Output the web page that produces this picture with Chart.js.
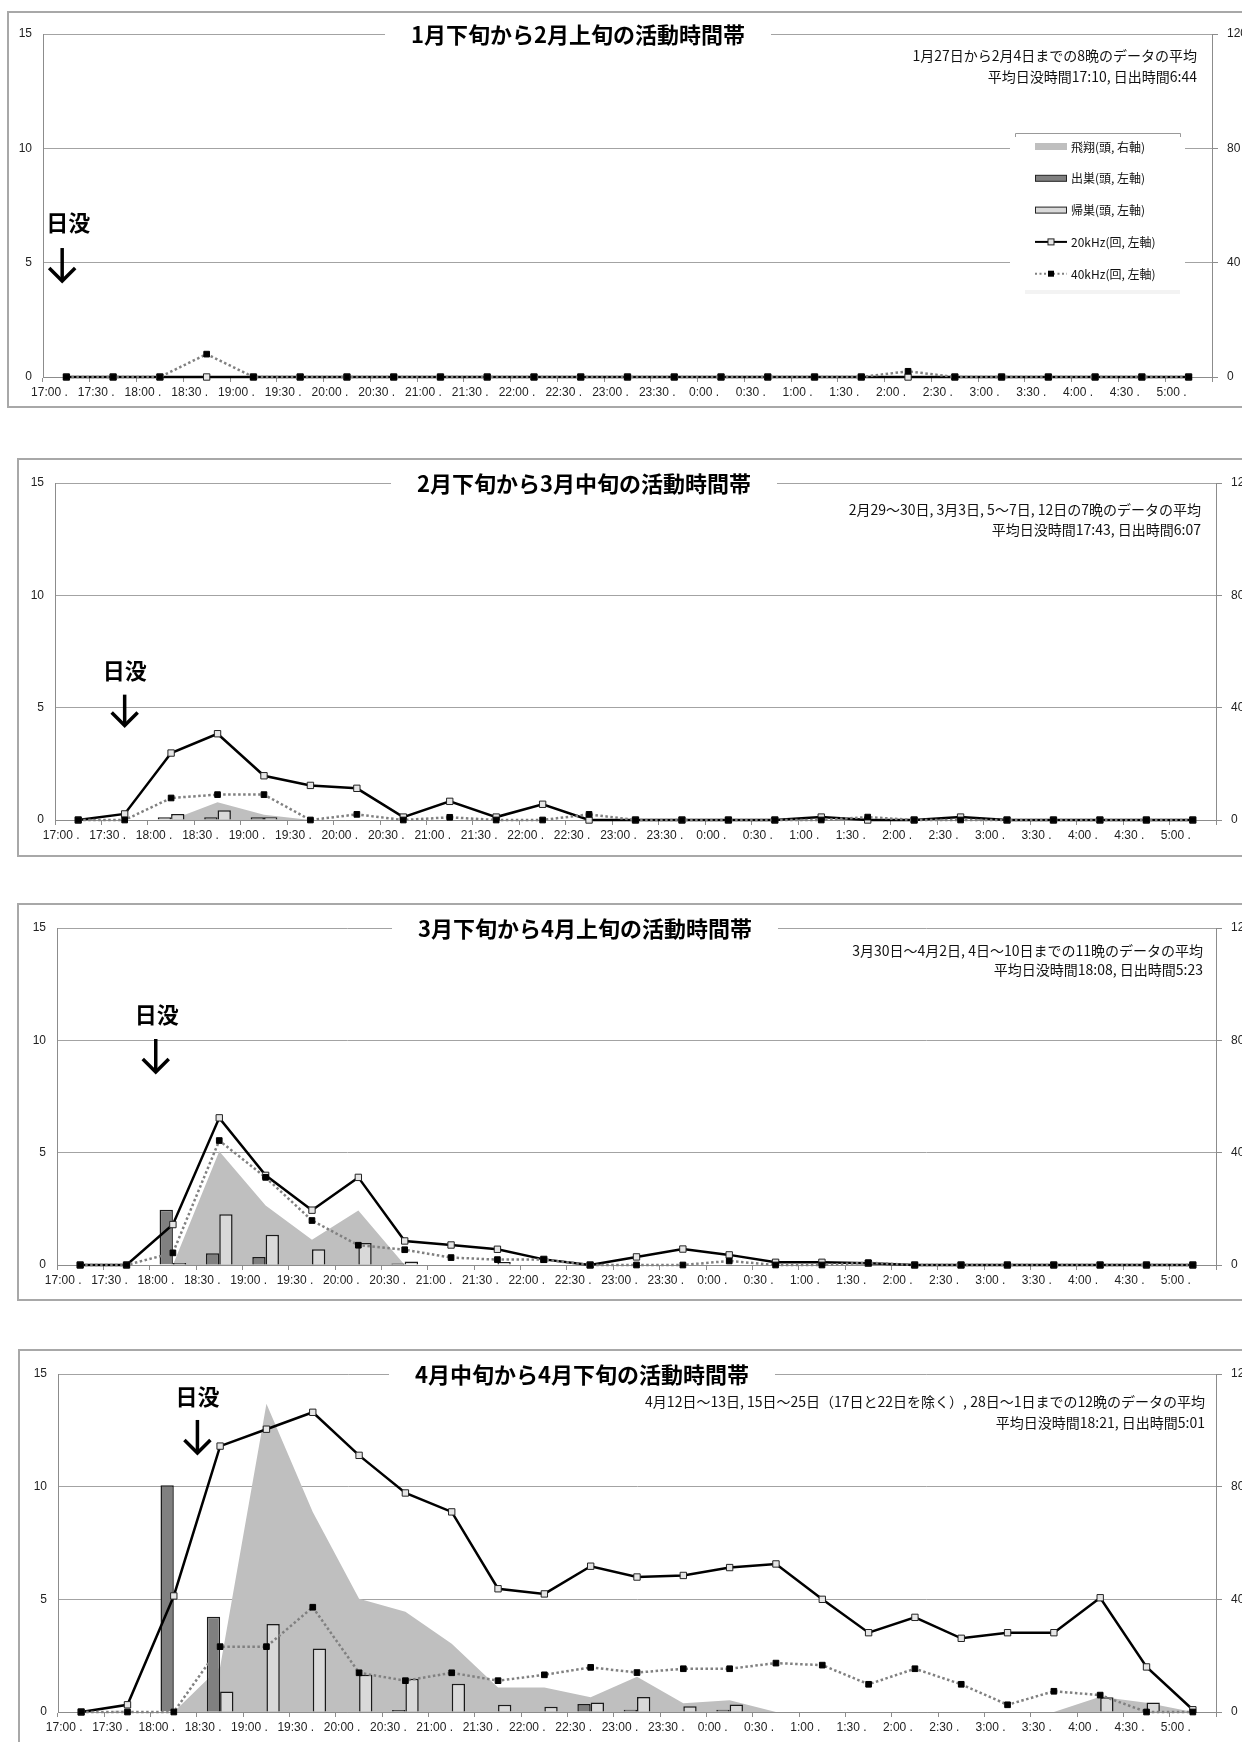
<!DOCTYPE html>
<html>
<head>
<meta charset="utf-8">
<script src="https://cdn.jsdelivr.net/npm/chart.js@4.4.1/dist/chart.umd.min.js"></script>
<style>
  html, body { margin: 0; padding: 0; background: #fff; overflow: hidden; width: 1242px; height: 1742px; }
  .frame { position: absolute; border: 2px solid #a8a8a8; box-sizing: border-box; }
  canvas { position: absolute; left: 0; }
</style>
</head>
<body>
<script>
// time slots (x axis)
const timeLabels = ["17:00 .", "17:30 .", "18:00 .", "18:30 .", "19:00 .", "19:30 .", "20:00 .", "20:30 .",
  "21:00 .", "21:30 .", "22:00 .", "22:30 .", "23:00 .", "23:30 .", "0:00 .", "0:30 .", "1:00 .", "1:30 .",
  "2:00 .", "2:30 .", "3:00 .", "3:30 .", "4:00 .", "4:30 .", "5:00 ."];

// panel 1 : 1月下旬から2月上旬
const fly1 = [0,0,0,0,0,0,0,0,0,0,0,0,0,0,0,0,0,0,0,0,0,0,0,0,0];
const out1 = [0,0,0,0,0,0,0,0,0,0,0,0,0,0,0,0,0,0,0,0,0,0,0,0,0];
const ret1 = [0,0,0,0,0,0,0,0,0,0,0,0,0,0,0,0,0,0,0,0,0,0,0,0,0];
const k20_1 = [0,0,0,0,0,0,0,0,0,0,0,0,0,0,0,0,0,0,0,0,0,0,0,0,0];
const k40_1 = [0,0,0,1.0,0,0,0,0,0,0,0,0,0,0,0,0,0,0,0.25,0,0,0,0,0,0];

// panel 2 : 2月下旬から3月中旬
const fly2 = [0,0,0,6.3,1.9,0,0,0,0,0,0,0,0,0,0,0,0,0,0,0,0,0,0,0,0];
const out2 = [0,0,0.12,0.12,0.12,0,0,0,0,0,0,0,0,0,0,0,0,0,0,0,0,0,0,0,0];
const ret2 = [0,0,0.27,0.43,0.12,0,0,0,0,0,0,0,0,0,0,0,0,0,0,0,0,0,0,0,0];
const k20_2 = [0,0.27,2.98,3.84,1.97,1.54,1.41,0.13,0.83,0.13,0.70,0,0,0,0,0,0.13,0,0,0.13,0,0,0,0,0];
const k40_2 = [0,0,0.98,1.13,1.13,0,0.25,0,0.12,0,0,0.25,0,0,0,0,0,0.13,0,0,0,0,0,0,0];

// panel 3 : 3月下旬から4月上旬
const fly3 = [0,0,0,40.5,21.2,9.0,19.4,0,0,0,0,0,0,0,0,0,0,0,0,0,0,0,0,0,0];
const out3 = [0,0,2.46,0.52,0.36,0,0,0.07,0,0,0,0,0,0,0,0,0,0,0,0,0,0,0,0,0];
const ret3 = [0,0,0.09,2.26,1.35,0.7,0.98,0.16,0,0.13,0,0,0,0,0,0,0,0,0,0,0,0,0,0,0];
const k20_3 = [0,0,1.8,6.55,3.99,2.44,3.9,1.07,0.89,0.7,0.25,0,0.36,0.71,0.45,0.12,0.12,0.08,0,0,0,0,0,0,0];
const k40_3 = [0,0,0.54,5.54,3.9,1.98,0.88,0.68,0.33,0.24,0.24,0,0,0,0.18,0,0,0.1,0,0,0,0,0,0,0];

// panel 4 : 4月中旬から4月下旬
const fly4 = [0,0,0,16,109.4,71,40.2,35.6,24.2,8.7,8.7,5.2,12.5,3.1,4.2,0,0,0,0,0,0,0,5.4,3.3,0];
const out4 = [0,0.06,10.06,4.23,0,0,0,0.09,0,0,0,0.35,0.1,0,0.1,0,0,0,0,0,0,0,0,0,0];
const ret4 = [0,0,0,0.91,3.91,2.82,1.65,1.48,1.25,0.32,0.23,0.42,0.67,0.26,0.33,0,0,0,0,0,0,0,0.66,0.42,0];
const k20_4 = [0,0.32,5.15,11.8,12.55,13.3,11.39,9.72,8.88,5.47,5.24,6.47,5.99,6.06,6.41,6.57,5.0,3.52,4.2,3.27,3.52,3.52,5.07,2.0,0.1];
const k40_4 = [0,0,0,2.9,2.9,4.65,1.74,1.39,1.74,1.39,1.65,1.98,1.75,1.92,1.92,2.17,2.08,1.23,1.92,1.23,0.32,0.92,0.75,0,0];

const seriesNames = ["飛翔(頭, 右軸)", "出巣(頭, 左軸)", "帰巣(頭, 左軸)", "20kHz(回, 左軸)", "40kHz(回, 左軸)"];

const panels = [
  { title: "1月下旬から2月上旬の活動時間帯",
    notes: ["1月27日から2月4日までの8晩のデータの平均", "平均日没時間17:10, 日出時間6:44"],
    fly: fly1, out: out1, ret: ret1, k20: k20_1, k40: k40_1,
    frameTop: 11, frameBottom: 408, frameLeft: 7, plotLeft: 43, plotTop: 34, plotBottom: 377, plotRight: 1212,
    titleX: 578, noteX: 1197, noteDy: [22, 43], sun: { textIdx: 0.04, arrowIdx: -0.09, textY: 6.73, top: 5.64, tip: 4.15 },
    legend: true },
  { title: "2月下旬から3月中旬の活動時間帯",
    notes: ["2月29～30日, 3月3日, 5～7日, 12日の7晩のデータの平均", "平均日没時間17:43, 日出時間6:07"],
    fly: fly2, out: out2, ret: ret2, k20: k20_2, k40: k40_2,
    frameTop: 458, frameBottom: 857, frameLeft: 17, plotLeft: 55, plotTop: 483, plotBottom: 820, plotRight: 1216,
    titleX: 584, noteX: 1201, noteDy: [27, 47], sun: { textIdx: 1.0, arrowIdx: 1.0, textY: 6.65, top: 5.58, tip: 4.16 } },
  { title: "3月下旬から4月上旬の活動時間帯",
    notes: ["3月30日～4月2日, 4日～10日までの11晩のデータの平均", "平均日没時間18:08, 日出時間5:23"],
    fly: fly3, out: out3, ret: ret3, k20: k20_3, k40: k40_3,
    frameTop: 903, frameBottom: 1301, frameLeft: 17, plotLeft: 57, plotTop: 928, plotBottom: 1265, plotRight: 1216,
    titleX: 585, noteX: 1203, noteDy: [23, 42], sun: { textIdx: 1.65, arrowIdx: 1.63, textY: 11.13, top: 10.06, tip: 8.55 } },
  { title: "4月中旬から4月下旬の活動時間帯",
    notes: ["4月12日～13日, 15日～25日（17日と22日を除く）, 28日～1日までの12晩のデータの平均", "平均日没時間18:21, 日出時間5:01"],
    fly: fly4, out: out4, ret: ret4, k20: k20_4, k40: k40_4,
    frameTop: 1349, frameBottom: 1748, frameLeft: 18, plotLeft: 58, plotTop: 1374, plotBottom: 1712, plotRight: 1216,
    titleX: 582, noteX: 1205, noteDy: [28, 49], sun: { textIdx: 2.51, arrowIdx: 2.51, textY: 13.98, top: 12.96, tip: 11.45 } }
];

const CW = 1300;
const tickFont = { family: "'Liberation Sans', Arial, sans-serif", size: 12 };
const jp = "'Noto Sans CJK JP', 'Noto Sans', sans-serif";

function drawLegend(ctx) {
  const x0 = 1035, x1 = 1067;
  ctx.fillStyle = "#fff";
  ctx.fillRect(1010, 131, 175, 164);
  ctx.strokeStyle = "#999"; ctx.lineWidth = 1;
  ctx.beginPath();
  ctx.moveTo(1015.5, 137); ctx.lineTo(1015.5, 133.5); ctx.lineTo(1180.5, 133.5); ctx.lineTo(1180.5, 137);
  ctx.stroke();
  ctx.fillStyle = "#f3f3f3";
  ctx.fillRect(1025, 290, 155, 4);
  seriesNames.forEach((name, k) => {
    const y = 146.5 + k * 31.8;
    if (k === 0) {
      ctx.fillStyle = "#bfbfbf"; ctx.fillRect(x0, y - 3.5, x1 - x0, 7);
    } else if (k === 1 || k === 2) {
      ctx.fillStyle = k === 1 ? "#808080" : "#d9d9d9";
      ctx.fillRect(x0, y - 3, x1 - x0, 6);
      ctx.strokeStyle = "#222"; ctx.lineWidth = 1;
      ctx.strokeRect(x0 + 0.5, y - 3, x1 - x0 - 1, 6);
    } else if (k === 3) {
      ctx.strokeStyle = "#000"; ctx.lineWidth = 2;
      ctx.beginPath(); ctx.moveTo(x0, y); ctx.lineTo(x1, y); ctx.stroke();
      ctx.fillStyle = "#e6e6e6"; ctx.fillRect(1048, y - 3, 6, 6);
      ctx.strokeStyle = "#222"; ctx.lineWidth = 1; ctx.strokeRect(1048, y - 3, 6, 6);
    } else {
      ctx.strokeStyle = "#808080"; ctx.lineWidth = 2; ctx.setLineDash([2, 2.5]);
      ctx.beginPath(); ctx.moveTo(x0, y); ctx.lineTo(x1, y); ctx.stroke();
      ctx.setLineDash([]);
      ctx.fillStyle = "#000"; ctx.fillRect(1048, y - 3, 6, 6);
    }
    ctx.fillStyle = "#111"; ctx.font = "12px " + jp;
    ctx.textAlign = "left"; ctx.textBaseline = "middle";
    ctx.fillText(name, 1071, y + 0.5);
  });
}

function decor(p) {
  return {
    id: "decor",
    afterDraw(chart) {
      const ctx = chart.ctx, a = chart.chartArea, xs = chart.scales.x, ys = chart.scales.y;
      ctx.save();
      // title over the top gridline
      ctx.font = "bold 22px " + jp;
      const tw = ctx.measureText(p.title).width;
      ctx.fillStyle = "#fff";
      ctx.fillRect(p.titleX - tw / 2 - 26, a.top - 5, tw + 52, 10);
      ctx.fillStyle = "#000"; ctx.textAlign = "center"; ctx.textBaseline = "middle";
      ctx.fillText(p.title, p.titleX, a.top + 1);
      // notes
      ctx.font = "14px " + jp; ctx.textAlign = "right"; ctx.fillStyle = "#111";
      ctx.fillText(p.notes[0], p.noteX, a.top + p.noteDy[0]);
      ctx.fillText(p.notes[1], p.noteX, a.top + p.noteDy[1]);
      // sunset marker
      const tx = xs.getPixelForValue(p.sun.textIdx);
      const ax = xs.getPixelForValue(p.sun.arrowIdx);
      ctx.font = "bold 22px " + jp; ctx.textAlign = "center"; ctx.fillStyle = "#000";
      ctx.fillText("日没", tx, ys.getPixelForValue(p.sun.textY));
      const yTop = ys.getPixelForValue(p.sun.top), yTip = ys.getPixelForValue(p.sun.tip);
      ctx.strokeStyle = "#000"; ctx.lineWidth = 3.5; ctx.lineJoin = "miter";
      ctx.beginPath(); ctx.moveTo(ax, yTop); ctx.lineTo(ax, yTip - 1); ctx.stroke();
      ctx.beginPath(); ctx.moveTo(ax - 13, yTip - 14); ctx.lineTo(ax, yTip - 1); ctx.lineTo(ax + 13, yTip - 14); ctx.stroke();
      if (p.legend) {
        ctx.translate(0, -p.frameTop);
        drawLegend(ctx);
      }
      ctx.restore();
    }
  };
}

panels.forEach(p => {
  const H = p.frameBottom - p.frameTop;
  const fr = document.createElement("div");
  fr.className = "frame";
  fr.style.left = p.frameLeft + "px"; fr.style.top = p.frameTop + "px";
  fr.style.width = (CW - p.frameLeft) + "px"; fr.style.height = H + "px";
  document.body.appendChild(fr);

  const cv = document.createElement("canvas");
  cv.width = CW; cv.height = H;
  cv.style.width = CW + "px"; cv.style.height = H + "px";
  cv.style.top = p.frameTop + "px";
  document.body.appendChild(cv);

  const xH = 25, y2W = 40;
  new Chart(cv.getContext("2d"), {
    data: {
      labels: timeLabels,
      datasets: [
        { type: "line", label: seriesNames[4], data: p.k40, yAxisID: "y", order: 0, clip: false,
          borderColor: "#808080", borderWidth: 2.5, borderDash: [2.5, 2.5], tension: 0,
          pointStyle: "rect", pointRadius: 4, pointBackgroundColor: "#000", pointBorderColor: "#000", pointBorderWidth: 1 },
        { type: "line", label: seriesNames[3], data: p.k20, yAxisID: "y", order: 1, clip: false,
          borderColor: "#000", borderWidth: 2.5, tension: 0,
          pointStyle: "rect", pointRadius: 4.5, pointBackgroundColor: "#e6e6e6", pointBorderColor: "#222", pointBorderWidth: 1 },
        { type: "bar", label: seriesNames[1], data: p.out, yAxisID: "y", order: 2,
          backgroundColor: "#808080", borderColor: "#1a1a1a", borderWidth: 1.5,
          categoryPercentage: 0.575, barPercentage: 1 },
        { type: "bar", label: seriesNames[2], data: p.ret, yAxisID: "y", order: 2,
          backgroundColor: "#d9d9d9", borderColor: "#1a1a1a", borderWidth: 1.5,
          categoryPercentage: 0.575, barPercentage: 1 },
        { type: "line", label: seriesNames[0], data: p.fly, yAxisID: "y2", order: 3,
          fill: "origin", backgroundColor: "#bfbfbf", borderWidth: 0, pointRadius: 0, tension: 0 }
      ]
    },
    options: {
      responsive: false, animation: false, devicePixelRatio: 1, events: [],
      layout: { padding: { left: 0, top: p.plotTop - p.frameTop, right: CW - p.plotRight - y2W,
                           bottom: H - (p.plotBottom - p.frameTop) - xH } },
      plugins: { legend: { display: false }, tooltip: { enabled: false } },
      scales: {
        x: { offset: true,
             grid: { offset: true, drawOnChartArea: false, tickLength: 5, color: "#8c8c8c" },
             border: { color: "#8c8c8c" },
             ticks: { labelOffset: -17, padding: 3, maxRotation: 0, autoSkip: false, font: tickFont, color: "#222" },
             afterFit(s) { s.height = xH; } },
        y: { position: "left", min: 0, max: 15,
             ticks: { stepSize: 5, padding: 11, font: tickFont, color: "#222" },
             grid: { color: "#a3a3a3", drawTicks: false },
             border: { color: "#8c8c8c" },
             afterFit(s) { s.width = p.plotLeft; } },
        y2: { position: "right", min: 0, max: 120,
              ticks: { stepSize: 40, padding: 9, font: tickFont, color: "#222" },
              grid: { drawOnChartArea: false, tickLength: 6, color: "#8c8c8c" },
              border: { color: "#8c8c8c" },
              afterFit(s) { s.width = y2W; } }
      }
    },
    plugins: [decor(p)]
  });
});
</script>
</body>
</html>
